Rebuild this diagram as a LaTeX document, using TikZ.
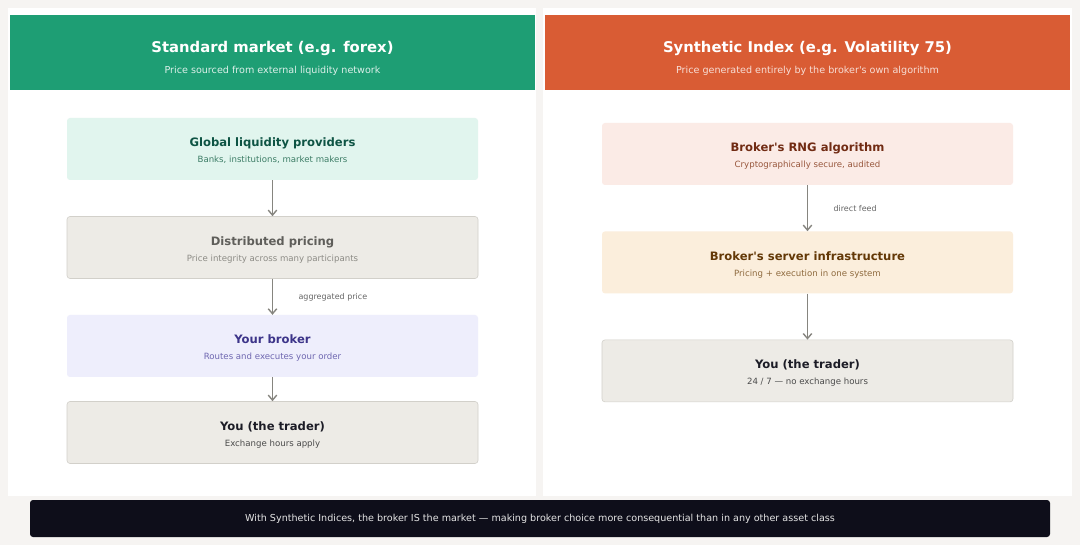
\documentclass[tikz,border=0pt]{standalone}
\usepackage{fontspec}
\setmainfont{DejaVu Sans}
\usetikzlibrary{positioning, arrows.meta}

\definecolor{pagebg}{HTML}{F6F4F2}
\definecolor{stdgreen}{HTML}{1E9E74}
\definecolor{synorange}{HTML}{D95C34}
\definecolor{greenfill}{HTML}{E1F5EE}
\definecolor{greyfill}{HTML}{EDEBE6}
\definecolor{greyline}{HTML}{D2D0CA}
\definecolor{lilacfill}{HTML}{EEEEFC}
\definecolor{pinkfill}{HTML}{FBEBE6}
\definecolor{peachfill}{HTML}{FBEEDC}
\definecolor{arrowgrey}{HTML}{86857F}
\definecolor{barbg}{HTML}{0E0E1A}
% card text colours
\definecolor{lptitle}{HTML}{0E5444}
\definecolor{lpsub}{HTML}{3D7D66}
\definecolor{disttitle}{HTML}{5F5E5A}
\definecolor{distsub}{HTML}{8C8B85}
\definecolor{brokertitle}{HTML}{3C3489}
\definecolor{brokersub}{HTML}{6E66B0}
\definecolor{tradertitle}{HTML}{1C1C26}
\definecolor{tradersub}{HTML}{4A4A4A}
\definecolor{rngtitle}{HTML}{712B13}
\definecolor{rngsub}{HTML}{98573C}
\definecolor{servertitle}{HTML}{633806}
\definecolor{serversub}{HTML}{8E6A3E}

\newcommand{\cardtext}[4]{{\color{#3}\bfseries\fontsize{11.6}{13}\selectfont\rule{0pt}{13pt}#1}\\[4pt]{\color{#4}\fontsize{8.6}{10}\selectfont #2}}

\begin{document}
\begin{tikzpicture}[
    x=1pt, y=-1pt,
    card/.style={rectangle, rounded corners=3pt, minimum width=411pt, minimum height=62pt, align=center, inner sep=0pt},
    plaincard/.style={card, fill=greyfill, draw=greyline, line width=0.6pt},
    headtext/.style={align=center, inner sep=0pt, text=white},
    lbl/.style={font=\fontsize{8}{9}\selectfont, text=black!60},
    arr/.style={-{Straight Barb[length=5pt, width=8.5pt]}, draw=arrowgrey, line width=1.4pt}
]
% page and panels
\fill[pagebg] (0,0) rectangle (1080,545);
\fill[white] (8,8) rectangle (536,496);
\fill[white] (543,8) rectangle (1072,496);

% headers
\fill[stdgreen] (10,15) rectangle (535,90);
\fill[synorange] (545,15) rectangle (1070,90);
\node[headtext] (stdhead) at (272.5,58) {{\bfseries\fontsize{14.8}{18}\selectfont Standard market (e.g. forex)}\\[9pt]{\color{white!85!stdgreen}\fontsize{9.6}{10}\selectfont Price sourced from external liquidity network}};
\node[headtext] (synhead) at (807.5,58) {{\bfseries\fontsize{14.8}{18}\selectfont Synthetic Index (e.g. Volatility 75)}\\[9pt]{\color{white!80!synorange}\fontsize{9.6}{10}\selectfont Price generated entirely by the broker\textquotesingle s own algorithm}};

% standard market chain
\node[card, fill=greenfill] (lp) at (272.5,149) {\cardtext{Global liquidity providers}{Banks, institutions, market makers}{lptitle}{lpsub}};
\node[plaincard, below=36pt of lp] (dist) {\cardtext{Distributed pricing}{Price integrity across many participants}{disttitle}{distsub}};
\node[card, fill=lilacfill, below=36pt of dist] (broker) {\cardtext{Your broker}{Routes and executes your order}{brokertitle}{brokersub}};
\node[plaincard, below=24pt of broker] (trader) {\cardtext{You (the trader)}{Exchange hours apply}{tradertitle}{tradersub}};

\draw[arr] (lp) -- (dist);
\draw[arr] (dist) -- node[midway, right=22pt, lbl] {aggregated price} (broker);
\draw[arr] (broker) -- (trader);

% synthetic index chain
\node[card, fill=pinkfill] (rng) at (807.5,154) {\cardtext{Broker\textquotesingle s RNG algorithm}{Cryptographically secure, audited}{rngtitle}{rngsub}};
\node[card, fill=peachfill, below=46pt of rng] (server) {\cardtext{Broker\textquotesingle s server infrastructure}{Pricing + execution in one system}{servertitle}{serversub}};
\node[plaincard, below=46pt of server] (synuser) {\cardtext{You (the trader)}{24 / 7 — no exchange hours}{tradertitle}{tradersub}};

\draw[arr] (rng) -- node[midway, right=22pt, lbl] {direct feed} (server);
\draw[arr] (server) -- (synuser);

% bottom note
\node[rectangle, rounded corners=3pt, fill=barbg, minimum width=1020pt, minimum height=37pt, text=white!90!black, font=\fontsize{9.6}{11}\selectfont] (note) at (540,518.5) {With Synthetic Indices, the broker IS the market — making broker choice more consequential than in any other asset class};
\end{tikzpicture}
\end{document}
